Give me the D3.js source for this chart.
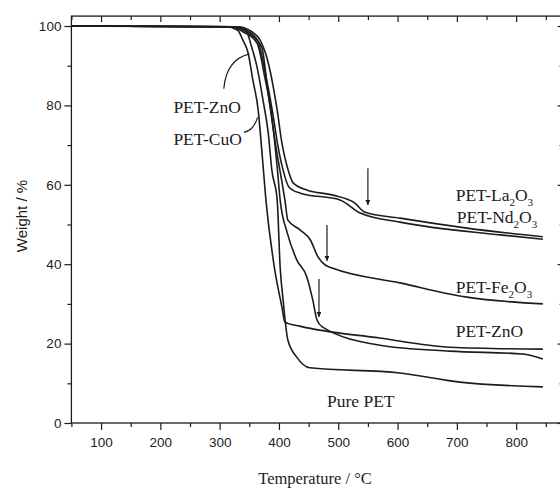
<!DOCTYPE html>
<html>
<head>
<meta charset="utf-8">
<script src="https://cdn.jsdelivr.net/npm/d3@7"></script>
<style>
  body { margin: 0; background: #fff; }
  svg { display: block; }
</style>
</head>
<body>
<div id="chart"></div>
<script>
// TGA curves, [temperature (C), weight (%)]
var purePET = [[50,100],[320,99.8],[345,98.6],[354,94.7],[363,89.7],[373,81.4],[382,73],[388,63.7],[397,56.2],[402,39.3],[407,31],[415,20.9],[430,16.6],[452,13.9],[604,12.6],[705,10.3],[845,9.1]];
var petCuO = [[50,100],[310,99.8],[330,99],[339,96.5],[348,93.2],[356,86.4],[365,78.8],[371,68.8],[378,56.2],[393,38.5],[405,29.2],[410,25.4],[435,24.4],[570,21.4],[688,19.1],[845,18.6]];
var petZnO = [[50,100],[320,99.8],[340,98.5],[363,95.7],[376,87.2],[388,77.1],[397,64.5],[402,56.2],[414,47.9],[430,41.1],[447,36.8],[457,31],[464,26],[473,24.2],[570,19.6],[688,18.1],[811,17.4],[845,16.1]];
var petFe2O3 = [[50,100],[325,99.8],[350,98],[371,94.7],[381,83.9],[393,71.3],[410,56.2],[415,51.1],[436,48.6],[453,46.1],[466,41.8],[478,39.8],[491,39],[604,35.3],[717,31.7],[845,30]];
var petNd2O3 = [[50,100],[325,99.8],[350,98.5],[365,96],[376,88.9],[390,77.6],[398,70],[407,63.7],[417,59.4],[436,57.9],[503,56.2],[537,52.9],[604,50.6],[773,47.4],[845,46.3]];
var petLa2O3 = [[50,100],[330,99.8],[355,98.5],[368,96.5],[382,90.7],[397,78.8],[405,70.5],[414,64.5],[424,60.5],[447,58.7],[491,57.4],[528,55.4],[545,53.1],[604,51.6],[717,49.1],[845,46.9]];

var allCurves = [purePET, petCuO, petZnO, petFe2O3, petNd2O3, petLa2O3];

var xTicks = [100, 200, 300, 400, 500, 600, 700, 800];
var xMinor = [50, 150, 250, 350, 450, 550, 650, 750, 850];
var yTicks = [0, 20, 40, 60, 80, 100];
var yMinor = [10, 30, 50, 70, 90];

// curve labels: text, subscripts, position in data coords
var labels = [
  {parts: ["PET-ZnO"], t: 222, w: 78},
  {parts: ["PET-CuO"], t: 222, w: 70},
  {parts: ["Pure PET"], t: 481, w: 4},
  {parts: ["PET-La", "2", "O", "3"], t: 698, w: 56},
  {parts: ["PET-Nd", "2", "O", "3"], t: 700, w: 50.5},
  {parts: ["PET-Fe", "2", "O", "3"], t: 698, w: 32.7},
  {parts: ["PET-ZnO"], t: 698, w: 21.6}
];

// downward arrows [t, wTop, wBottom]
var arrows = [[550, 64.2, 54.9], [481, 49.9, 40.8], [467.5, 36.3, 26.7]];

// leader lines from left labels to curves [[t,w] start, control, end]
var leaders = [
  [[307, 84.2], [311, 91.5], [350, 93]],
  [[341, 73.2], [357, 73.6], [364, 77]]
];

var W = 560, H = 488;
var x = d3.scaleLinear().domain([50, 880]).range([71.4, 563.6]);
var y = d3.scaleLinear().domain([0, 102.5]).range([423, 16.1]);

var svg = d3.select("#chart").append("svg")
  .attr("width", W)
  .attr("height", H);

svg.append("rect").attr("width", W).attr("height", H).attr("fill", "#fff");

var ink = "#1c1c1c";

// frame
svg.append("rect")
  .attr("x", x(50)).attr("y", y(102.5))
  .attr("width", x(880) - x(50)).attr("height", y(0) - y(102.5))
  .attr("fill", "none").attr("stroke", ink).attr("stroke-width", 1.3);

// bottom axis (ticks outward)
var xAxis = svg.append("g").attr("transform", "translate(0," + y(0) + ")")
  .call(d3.axisBottom(x).tickValues(xTicks).tickSize(7).tickFormat(d3.format("d")));
svg.append("g").attr("transform", "translate(0," + y(0) + ")")
  .call(d3.axisBottom(x).tickValues(xMinor).tickSize(4).tickFormat(""));

// left axis (ticks outward)
var yAxis = svg.append("g").attr("transform", "translate(" + x(50) + ",0)")
  .call(d3.axisLeft(y).tickValues(yTicks).tickSize(7).tickFormat(d3.format("d")));
svg.append("g").attr("transform", "translate(" + x(50) + ",0)")
  .call(d3.axisLeft(y).tickValues(yMinor).tickSize(4).tickFormat(""));

// top and right axes, ticks inward
svg.append("g").attr("transform", "translate(0," + y(102.5) + ")")
  .call(d3.axisBottom(x).tickValues(xTicks).tickSize(6).tickFormat(""));
svg.append("g").attr("transform", "translate(0," + y(102.5) + ")")
  .call(d3.axisBottom(x).tickValues(xMinor).tickSize(4).tickFormat(""));
svg.append("g").attr("transform", "translate(" + x(880) + ",0)")
  .call(d3.axisLeft(y).tickValues(yTicks).tickSize(6).tickFormat(""));
svg.append("g").attr("transform", "translate(" + x(880) + ",0)")
  .call(d3.axisLeft(y).tickValues(yMinor).tickSize(4).tickFormat(""));

svg.selectAll(".domain").remove();
svg.selectAll(".tick line").attr("stroke", ink).attr("stroke-width", 1.2);
svg.selectAll(".tick text")
  .attr("fill", ink)
  .attr("font-family", "'Liberation Sans', Arial, sans-serif")
  .attr("font-size", 13.5);
xAxis.selectAll(".tick text").attr("dy", "1.05em");
yAxis.selectAll(".tick text").attr("x", -10);

// axis titles
svg.append("text")
  .attr("x", 315).attr("y", 484)
  .attr("text-anchor", "middle")
  .attr("font-family", "'Liberation Serif', 'Times New Roman', serif")
  .attr("font-size", 16.5)
  .attr("fill", ink)
  .text("Temperature / \u00B0C");

svg.append("text")
  .attr("transform", "translate(27,216) rotate(-90)")
  .attr("text-anchor", "middle")
  .attr("font-family", "'Liberation Sans', Arial, sans-serif")
  .attr("font-size", 15)
  .attr("fill", ink)
  .text("Weight / %");

// curves
var line = d3.line()
  .x(d => x(d[0]))
  .y(d => y(d[1]))
  .curve(d3.curveMonotoneX);

svg.selectAll(".tga").data(allCurves).enter().append("path")
  .attr("class", "tga")
  .attr("d", line)
  .attr("fill", "none")
  .attr("stroke", ink)
  .attr("stroke-width", 1.6);

// leaders
svg.selectAll(".leader").data(leaders).enter().append("path")
  .attr("class", "leader")
  .attr("d", d => "M" + x(d[0][0]) + "," + y(d[0][1]) + " Q" + x(d[1][0]) + "," + y(d[1][1]) + " " + x(d[2][0]) + "," + y(d[2][1]))
  .attr("fill", "none")
  .attr("stroke", ink)
  .attr("stroke-width", 1.2);

// arrows
svg.append("defs").append("marker")
  .attr("id", "head")
  .attr("viewBox", "0 0 10 10")
  .attr("refX", 10).attr("refY", 5)
  .attr("markerWidth", 9).attr("markerHeight", 5)
  .attr("markerUnits", "userSpaceOnUse")
  .attr("orient", "auto")
  .append("path")
    .attr("d", "M0,0 L10,5 L0,10 Z")
    .attr("fill", ink);

svg.selectAll(".arrow").data(arrows).enter().append("line")
  .attr("class", "arrow")
  .attr("x1", d => x(d[0])).attr("x2", d => x(d[0]))
  .attr("y1", d => y(d[1])).attr("y2", d => y(d[2]))
  .attr("stroke", ink)
  .attr("stroke-width", 1.2)
  .attr("marker-end", "url(#head)");

// labels with subscripts
var lab = svg.selectAll(".lab").data(labels).enter().append("text")
  .attr("class", "lab")
  .attr("x", d => x(d.t))
  .attr("y", d => y(d.w))
  .attr("font-family", "'Liberation Serif', 'Times New Roman', serif")
  .attr("font-size", 17.5)
  .attr("fill", ink);

lab.each(function(d) {
  var t = d3.select(this);
  d.parts.forEach((p, i) => {
    var span = t.append("tspan").text(p);
    if (i % 2 == 1) {
      span.attr("font-size", 11).attr("dy", 5);
    } else if (i > 0) {
      span.attr("dy", -5);
    }
  });
});
</script>
</body>
</html>
